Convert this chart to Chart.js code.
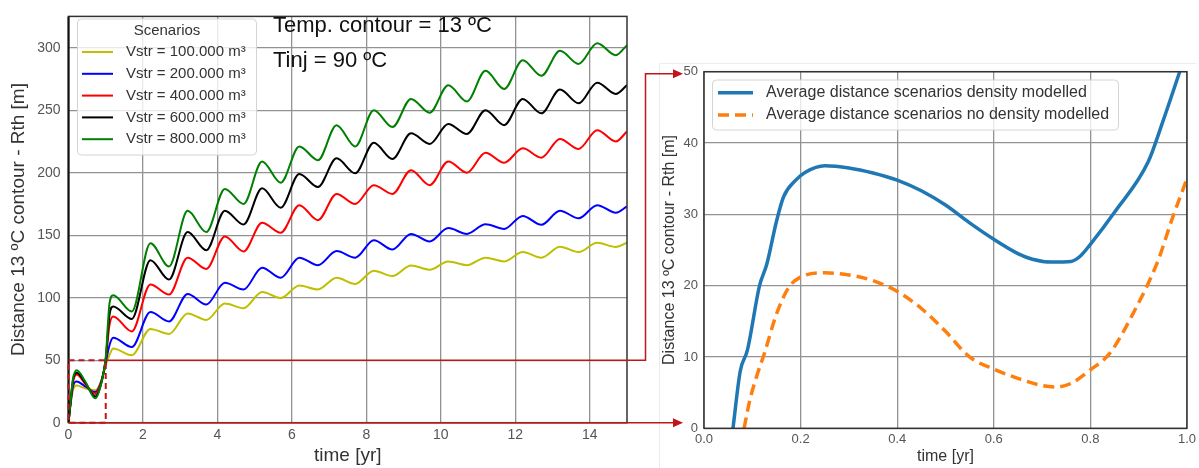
<!DOCTYPE html>
<html>
<head>
<meta charset="utf-8">
<script src="https://cdn.jsdelivr.net/npm/chart.js@4.4.1/dist/chart.umd.min.js"></script>
<style>
  body { margin: 0; background: #fff; }
  #wrap { position: relative; width: 1199px; height: 468px; overflow: hidden; background: #fff; }
  canvas { position: absolute; top: 0; }
  #left-chart { left: 0; }
  #right-chart { left: 640px; }
  #links { left: 0; pointer-events: none; }
</style>
</head>
<body>
<div id="wrap">
  <canvas id="left-chart" width="640" height="468"></canvas>
  <canvas id="right-chart" width="559" height="468"></canvas>
  <canvas id="links" width="1199" height="468"></canvas>
</div>
<script>
const FONT = "'Liberation Sans', Arial, sans-serif";
const GRID = '#929292';
const TICK = '#555555';
const LINK_RED = '#c0161b';

// distance of the 13 ºC contour per storage volume, 15 years of cycles
const timeYr = [0, 0.05, 0.12, 0.22, 0.45, 0.72, 0.9, 1.0, 1.1, 1.2, 1.7, 2.2, 2.7, 3.2, 3.7, 4.2, 4.7, 5.2, 5.7, 6.2, 6.7, 7.2, 7.7, 8.2, 8.7, 9.2, 9.7, 10.2, 10.7, 11.2, 11.7, 12.2, 12.7, 13.2, 13.7, 14.2, 14.7, 15.0];
const rth100 = [0, 13, 26, 29.7, 27.5, 26, 35, 46, 54, 59.4, 54, 75, 71, 87.4, 82.2, 95.3, 91.5, 104.5, 99.8, 109.8, 106.6, 116, 111, 121.6, 117.3, 125.8, 122.4, 129, 126, 132, 129, 136.5, 132, 140.7, 136.5, 143.9, 140.6, 144];
const rth200 = [0, 14, 29, 33, 29, 24.5, 35, 48, 62, 68, 60.5, 88.5, 81, 103, 94.5, 112, 106.5, 124, 116, 132, 126, 137.3, 132, 146, 138.5, 151, 145, 155.7, 151, 158.8, 155, 165.4, 158.3, 169.6, 163.5, 174, 168, 173];
const rth400 = [0, 15, 32, 38.5, 31, 23, 35, 50, 78, 85, 73, 110.5, 102.5, 132, 123, 149, 137, 160, 152, 174, 162, 183, 175, 190, 183, 202, 190, 209, 200, 216, 208, 219.5, 212, 227, 219, 234, 225, 233];
const rth600 = [0, 15, 34, 40, 32, 21, 34, 51, 86, 93, 83, 130, 114.5, 152.5, 138, 169.5, 158.5, 187.5, 172, 199, 188.5, 211.5, 199.5, 224, 211, 231.5, 223, 239, 231, 250, 238, 259, 247.5, 266.5, 255.5, 272, 263, 270];
const rth800 = [0, 15, 35, 42, 33, 19.5, 34, 52, 95, 102, 89, 143.5, 125, 169.5, 152.5, 187, 175, 209, 192, 221, 210, 238, 221, 250, 236.5, 259, 248, 270, 257, 281.5, 267, 290, 277.5, 297.5, 287, 303.5, 294, 302];
const scenarioLabels = ['Vstr = 100.000 m³', 'Vstr = 200.000 m³', 'Vstr = 400.000 m³', 'Vstr = 600.000 m³', 'Vstr = 800.000 m³'];
const scenarioColors = ['#bfbf00', '#0000ff', '#ff0000', '#000000', '#008000'];
const leftTimeTicks = [0, 2, 4, 6, 8, 10, 12, 14];
const leftDistTicks = [0, 50, 100, 150, 200, 250, 300];
const tempNote = 'Temp. contour = 13 ºC';
const injNote = 'Tinj = 90 ºC';

// first year, averaged over the scenarios
const avgTimeDens = [0.06, 0.075, 0.09, 0.115, 0.13, 0.15, 0.165, 0.19, 0.21, 0.25, 0.3, 0.35, 0.4, 0.45, 0.5, 0.55, 0.6, 0.65, 0.68, 0.72, 0.76, 0.78, 0.8, 0.85, 0.92, 0.95, 0.985, 1.0];
const avgDistDens = [0, 8, 11, 20, 23, 29, 32.5, 34.8, 35.9, 36.8, 36.5, 35.8, 34.8, 33.3, 31.3, 28.8, 26.5, 24.5, 23.7, 23.3, 23.4, 24.2, 25.8, 30.3, 37.4, 43, 50, 53];
const avgTimeNoDens = [0.083, 0.095, 0.11, 0.125, 0.15, 0.175, 0.2, 0.25, 0.3, 0.35, 0.4, 0.45, 0.5, 0.55, 0.6, 0.65, 0.7, 0.73, 0.76, 0.8, 0.84, 0.89, 0.94, 0.97, 1.0];
const avgDistNoDens = [0, 4, 7.5, 10.5, 16, 19.7, 21.2, 21.8, 21.5, 20.7, 19.2, 16.8, 13.6, 10, 8.3, 7, 6, 5.8, 6.3, 8.2, 10.5, 16.3, 23.5, 29.5, 35];
const avgLabels = ['Average distance scenarios density modelled', 'Average distance scenarios no density modelled'];
const rightTimeTicks = [0, 0.2, 0.4, 0.6, 0.8, 1.0];
const rightDistTicks = [0, 10, 20, 30, 40, 50];

const toPoints = (xs, ys) => xs.map((x, i) => ({ x: x, y: ys[i] }));

// box around the plotting area
const framePlugin = {
  id: 'frame',
  afterDatasetsDraw(chart, args, o) {
    const { ctx, chartArea: a } = chart;
    ctx.save();
    ctx.strokeStyle = o.color;
    ctx.lineWidth = o.width;
    ctx.strokeRect(a.left, a.top, a.right - a.left, a.bottom - a.top);
    if (o.leftWidth) {
      ctx.lineWidth = o.leftWidth;
      ctx.strokeStyle = '#111';
      ctx.beginPath();
      ctx.moveTo(a.left, a.top);
      ctx.lineTo(a.left, a.bottom);
      ctx.stroke();
    }
    ctx.restore();
  }
};

// matplotlib-like framed legend drawn from the datasets
const boxLegend = {
  id: 'boxLegend',
  afterDraw(chart, args, o) {
    const ctx = chart.ctx;
    ctx.save();
    ctx.beginPath();
    ctx.roundRect(o.x, o.y, o.w, o.h, 4);
    ctx.fillStyle = 'rgba(255,255,255,0.8)';
    ctx.fill();
    ctx.strokeStyle = '#d4d4d4';
    ctx.lineWidth = 1;
    ctx.stroke();
    ctx.font = o.size + 'px ' + FONT;
    ctx.textBaseline = 'middle';
    ctx.fillStyle = o.textColor;
    if (o.title) {
      ctx.textAlign = 'center';
      ctx.fillText(o.title, o.x + o.w / 2, o.titleY);
    }
    ctx.textAlign = 'left';
    chart.data.datasets.forEach((ds, i) => {
      const y = o.firstRow + i * o.rowGap;
      ctx.beginPath();
      ctx.setLineDash(ds.borderDash || []);
      ctx.strokeStyle = ds.borderColor;
      ctx.lineWidth = ds.borderWidth;
      ctx.moveTo(o.lineX, y);
      ctx.lineTo(o.lineX + o.lineLen, y);
      ctx.stroke();
      ctx.setLineDash([]);
      ctx.fillStyle = o.textColor;
      ctx.fillText(ds.label, o.textX, y);
    });
    ctx.restore();
  }
};

const noteText = {
  id: 'noteText',
  afterDatasetsDraw(chart, args, o) {
    const ctx = chart.ctx;
    ctx.save();
    ctx.font = o.size + 'px ' + FONT;
    ctx.fillStyle = o.color;
    ctx.textAlign = 'left';
    ctx.textBaseline = 'alphabetic';
    o.lines.forEach(l => ctx.fillText(l.text, l.x, l.y));
    ctx.restore();
  }
};

const scenarioSeries = [rth100, rth200, rth400, rth600, rth800];

const leftChart = new Chart(document.getElementById('left-chart'), {
  type: 'line',
  data: {
    datasets: scenarioSeries.map((vals, i) => ({
      label: scenarioLabels[i],
      data: toPoints(timeYr, vals),
      borderColor: scenarioColors[i],
      borderWidth: 2,
      pointRadius: 0,
      cubicInterpolationMode: 'monotone',
      order: scenarioSeries.length - i
    }))
  },
  options: {
    responsive: false,
    animation: false,
    devicePixelRatio: 1,
    layout: { padding: { top: 9, right: 13, left: 0, bottom: 0 } },
    scales: {
      x: {
        type: 'linear', min: 0, max: 15,
        afterBuildTicks: s => { s.ticks = leftTimeTicks.map(v => ({ value: v })); },
        afterFit: s => { s.height = 45.3; },
        grid: { color: GRID, lineWidth: 1.3, drawTicks: false },
        border: { display: false },
        ticks: { padding: 4, color: TICK, font: { family: FONT, size: 14 }, maxRotation: 0 },
        title: { display: true, text: 'time [yr]', color: '#333', font: { family: FONT, size: 19 }, padding: { top: 0, bottom: 1 } }
      },
      y: {
        type: 'linear', min: 0, max: 325,
        afterBuildTicks: s => { s.ticks = leftDistTicks.map(v => ({ value: v })); },
        afterFit: s => { s.width = 68.5; },
        grid: { color: GRID, lineWidth: 1.3, drawTicks: false },
        border: { display: false },
        ticks: { padding: 8, color: TICK, font: { family: FONT, size: 14 } },
        title: { display: true, text: 'Distance 13 ºC contour - Rth [m]', color: '#333', font: { family: FONT, size: 19 }, padding: { top: 7, bottom: 0 } }
      }
    },
    plugins: {
      legend: { display: false },
      tooltip: { enabled: false },
      frame: { color: '#333', width: 1.5, leftWidth: 2 },
      boxLegend: {
        x: 77.5, y: 19, w: 179, h: 136, size: 15, textColor: '#333',
        title: 'Scenarios', titleY: 30.5,
        firstRow: 52, rowGap: 21.8, lineX: 82, lineLen: 31, textX: 126
      },
      noteText: {
        size: 22, color: '#111',
        lines: [ { text: tempNote, x: 273, y: 31.5 }, { text: injNote, x: 273, y: 66.5 } ]
      }
    }
  },
  plugins: [framePlugin, noteText, boxLegend]
});

const rightChart = new Chart(document.getElementById('right-chart'), {
  type: 'line',
  data: {
    datasets: [
      {
        label: avgLabels[0],
        data: toPoints(avgTimeDens, avgDistDens),
        borderColor: '#1f77b4',
        borderWidth: 3.5,
        pointRadius: 0,
        cubicInterpolationMode: 'monotone'
      },
      {
        label: avgLabels[1],
        data: toPoints(avgTimeNoDens, avgDistNoDens),
        borderColor: '#ff7f0e',
        borderWidth: 3.5,
        borderDash: [11, 6],
        pointRadius: 0,
        cubicInterpolationMode: 'monotone'
      }
    ]
  },
  options: {
    responsive: false,
    animation: false,
    devicePixelRatio: 1,
    layout: { padding: { top: 71.7, right: 12, left: 0, bottom: 0 } },
    scales: {
      x: {
        type: 'linear', min: 0, max: 1,
        afterBuildTicks: s => { s.ticks = rightTimeTicks.map(v => ({ value: v })); },
        afterFit: s => { s.height = 39.7; },
        grid: { color: GRID, lineWidth: 1.3, drawTicks: false },
        border: { display: false },
        ticks: { padding: 3, color: TICK, font: { family: FONT, size: 13 }, maxRotation: 0, callback: v => Number(v).toFixed(1) },
        title: { display: true, text: 'time [yr]', color: '#333', font: { family: FONT, size: 16 }, padding: { top: 0, bottom: 1.5 } }
      },
      y: {
        type: 'linear', min: 0, max: 50,
        afterBuildTicks: s => { s.ticks = rightDistTicks.map(v => ({ value: v })); },
        afterFit: s => { s.width = 64; },
        grid: { color: GRID, lineWidth: 1.3, drawTicks: false },
        border: { display: false },
        ticks: { padding: 6, color: TICK, font: { family: FONT, size: 13 } },
        title: { display: true, text: 'Distance 13 ºC contour - Rth [m]', color: '#333', font: { family: FONT, size: 16 }, padding: { top: 20, bottom: 0 } }
      }
    },
    plugins: {
      legend: { display: false },
      tooltip: { enabled: false },
      frame: { color: '#333', width: 1.5 },
      boxLegend: {
        x: 72.5, y: 80, w: 406, h: 50, size: 16, textColor: '#333',
        firstRow: 92.7, rowGap: 22.3, lineX: 78, lineLen: 35, textX: 126
      }
    }
  },
  plugins: [framePlugin, boxLegend]
});

// red zoom box on the first year and the arrows leading to the detail plot
function drawLinks() {
  const ctx = document.getElementById('links').getContext('2d');
  const rightOffset = 640;
  const lx = leftChart.scales.x, ly = leftChart.scales.y, ry = rightChart.scales.y;
  const x0 = lx.getPixelForValue(0), x1 = lx.getPixelForValue(1);
  const y0 = ly.getPixelForValue(0), y50 = ly.getPixelForValue(50);
  const bendX = leftChart.chartArea.right + 18.5;
  const tipX = rightOffset + rightChart.chartArea.left - 21;
  const topY = ry.getPixelForValue(50) + 2;

  // faint top and left edges of the detail figure
  ctx.strokeStyle = '#ececec';
  ctx.lineWidth = 1;
  ctx.beginPath();
  ctx.moveTo(1196.5, 63.5);
  ctx.lineTo(659.5, 63.5);
  ctx.lineTo(659.5, 468);
  ctx.stroke();

  ctx.strokeStyle = LINK_RED;
  ctx.fillStyle = LINK_RED;
  ctx.lineWidth = 1.5;
  ctx.beginPath();
  ctx.moveTo(x1, y50);
  ctx.lineTo(bendX, y50);
  ctx.lineTo(bendX, topY);
  ctx.lineTo(tipX - 6, topY);
  ctx.moveTo(x0, y0);
  ctx.lineTo(tipX - 6, y0);
  ctx.stroke();

  [topY, y0].forEach(y => {
    ctx.beginPath();
    ctx.moveTo(tipX, y);
    ctx.lineTo(tipX - 10, y - 4.5);
    ctx.lineTo(tipX - 10, y + 4.5);
    ctx.closePath();
    ctx.fill();
  });

  ctx.setLineDash([6, 4]);
  ctx.lineWidth = 2;
  ctx.strokeRect(x0, y50, x1 - x0, y0 - y50);
  ctx.setLineDash([]);
}
drawLinks();
</script>
</body>
</html>
